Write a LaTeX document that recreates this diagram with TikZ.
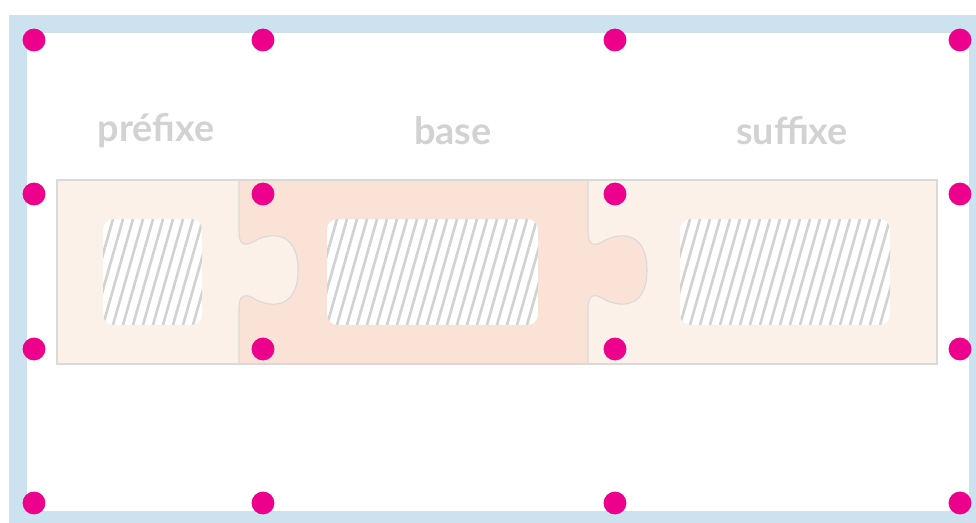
\documentclass[tikz,border=0pt]{standalone}
\usepackage{fontspec}
\setsansfont{Lato}
\usetikzlibrary{positioning}

\definecolor{frameblue}{HTML}{CDE2EF}
\definecolor{dotpink}{HTML}{EC008C}
\definecolor{pale}{HTML}{FCF1E9}
\definecolor{peach}{HTML}{FAE3D6}
\definecolor{edgegray}{HTML}{D9D9D9}
\definecolor{labelgray}{HTML}{D2D2D2}
\definecolor{hatchgray}{HTML}{D2D2D2}

% one puzzle tab, relative to its divider line
\newcommand\tabcurve{(0,232) .. controls (0,244) and (5,247) .. (14,242) .. controls (28,233) and (59,228) .. (59,270) .. controls (59,312) and (28,307) .. (14,298) .. controls (5,293) and (0,296) .. (0,308)}

\tikzset{
  dot/.style={circle,fill=dotpink,minimum size=13pt,inner sep=0pt},
  partlabel/.style={font=\sffamily\bfseries\fontsize{21.5}{21.5}\selectfont,text=labelgray},
  hatch/.style={hatchgray,line width=1.5pt},
}

\begin{document}
\begin{tikzpicture}[x=0.02cm,y=-0.02cm]
  \useasboundingbox (0,0) rectangle (976,523);
  \clip (0,0) rectangle (976,523);

  % frame
  \draw[frameblue,line width=10.8pt] (18,24) rectangle (978,520);

  % strip
  \fill[pale] (57,180) rectangle (937,364);
  \fill[peach] (239,180) rectangle (588,364);
  \fill[pale] [shift={(239,0)}] \tabcurve -- cycle;
  \fill[peach] [shift={(588,0)}] \tabcurve -- cycle;
  \draw[edgegray,line width=0.6pt] (57,180) rectangle (937,364);
  \draw[edgegray,line width=0.6pt] [shift={(239,0)}] (0,180) -- \tabcurve -- (0,364);
  \draw[edgegray,line width=0.6pt] [shift={(588,0)}] (0,180) -- \tabcurve -- (0,364);

  % hatched boxes
  \foreach \a/\b in {103/202,327/538,680/890}{
    \begin{scope}
      \clip[rounded corners=6pt] (\a,219) rectangle (\b,325);
      \fill[white] (\a,219) rectangle (\b,325);
      \foreach \x in {-40,-30,...,220}
        \draw[hatch] (\a+\x,325) -- ++(30,-106);
    \end{scope}
  }

  % labels
  \node[partlabel] (prefixe) at (156,131) {préfixe};
  \node[partlabel] (base) at (453,131) {base};
  \node[partlabel] (suffixe) at (792,131) {suffixe};

  % guide dots
  \foreach \x [count=\i] in {34,263,615,960}
    \foreach \y [count=\j] in {40,194,349,503}
      \node[dot] (d\i\j) at (\x,\y) {};
\end{tikzpicture}
\end{document}
